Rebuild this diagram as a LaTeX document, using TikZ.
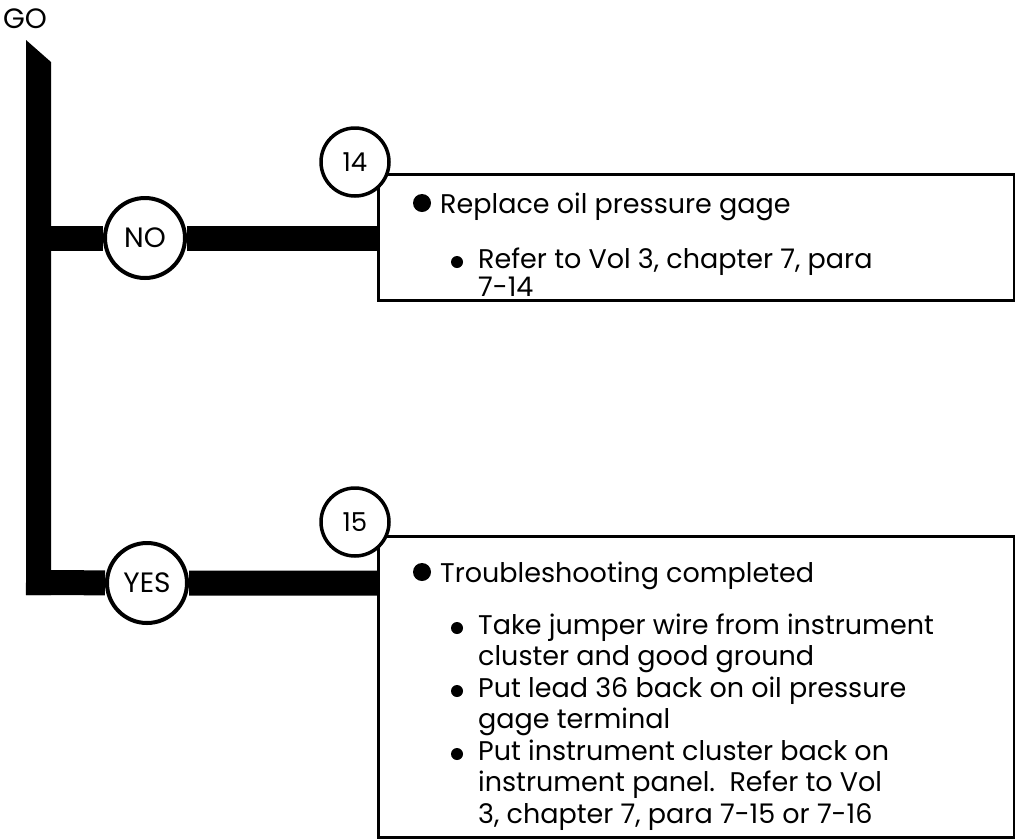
\documentclass[tikz,border=0pt]{standalone}
\usepackage{fontspec}
\setmainfont{Poppins}
\usetikzlibrary{backgrounds}
\newcommand\stack[1]{\begin{tabular}[t]{@{}l@{}}#1\end{tabular}}
\begin{document}
\begin{tikzpicture}[x=1pt,y=-1pt,
  bar/.style={line width=25pt, line cap=butt},
  answer/.style={circle, draw=black, line width=4pt, fill=white,
    minimum size=80pt, inner sep=0pt, font=\fontsize{28}{32}\selectfont},
  stepno/.style={circle, draw=black, line width=3.5pt, fill=white,
    minimum size=68pt, inner sep=0pt, font=\fontsize{26}{30}\selectfont},
  panel/.style={draw=black, line width=2.5pt, anchor=north west,
    inner sep=0pt, minimum width=636pt},
  bigdot/.style={circle, fill=black, minimum size=18pt, inner sep=0pt},
  smalldot/.style={circle, fill=black, minimum size=12pt, inner sep=0pt},
  body/.style={anchor=base west, inner sep=0pt,
    font=\fontsize{27}{31.5}\selectfont}
]
\useasboundingbox (0,0) rectangle (1015,839);

% start label and the decision circles
\node[inner sep=0pt, font=\fontsize{28}{32}\selectfont] (go) at (25,19) {GO};
\node[answer] (no)  at (145,238) {NO};
\node[answer] (yes) at (147,583) {YES};

% action panels
\node[panel, minimum height=126pt] (box1) at (377,173) {};
\node[panel, minimum height=301pt] (box2) at (377,535) {};

% step numbers sit on the top left corner of each panel
\node[stepno] (s14) at (355,162) {14};
\node[stepno] (s15) at (355,522) {15};

% heavy flow lines behind the circles
\begin{scope}[on background layer]
  \fill[black] (26,40) -- (51,62) -- (51,595) -- (26,595) -- cycle;
  \draw[bar] (26,238) -- (no) -- (box1.west |- no);
  \draw[bar] (26,582.5) -- (yes) -- (box2.west |- yes);
\end{scope}

% panel 14
\node[bigdot] (b1) at (422,203) {};
\node[body] (t1) at (440,213) {Replace oil pressure gage};
\node[smalldot] (b1a) at (457,262) {};
\node[body, font=\fontsize{27}{28.5}\selectfont] (t1a) at (478,268)
  {\stack{Refer to Vol 3, chapter 7, para\\7-14}};

% panel 15
\node[bigdot] (b2) at (422,572) {};
\node[body] (t2) at (440,582) {Troubleshooting completed};
\node[smalldot] (b2a) at (457,628) {};
\node[body] (t2a) at (478,634) {\stack{Take jumper wire from instrument\\cluster and good ground}};
\node[smalldot] (b2b) at (457,691) {};
\node[body] (t2b) at (478,697) {\stack{Put lead 36 back on oil pressure\\gage terminal}};
\node[smalldot] (b2c) at (457,754) {};
\node[body] (t2c) at (478,760) {\stack{Put instrument cluster back on\\instrument panel.\ \ Refer to Vol\\3, chapter 7, para 7-15 or 7-16}};
\end{tikzpicture}
\end{document}
